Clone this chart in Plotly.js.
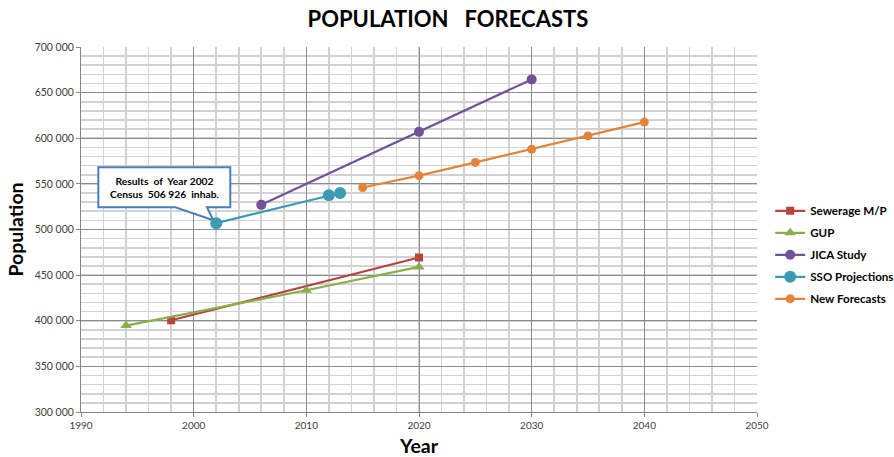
<!DOCTYPE html>
<html>
<head>
<meta charset="utf-8">
<script src="https://cdn.plot.ly/plotly-3.0.1.min.js"></script>
<style>html,body{margin:0;padding:0;background:#fff;}#chart{width:894px;height:457px;}</style>
</head>
<body>
<div id="chart"></div>
<script>
// ---- data ----
const sewerageYears = [1998, 2020];
const sewerageValues = [400500, 469300];
const gupYears = [1994, 2010, 2020];
const gupValues = [394700, 433400, 459000];
const jicaYears = [2006, 2020, 2030];
const jicaValues = [527000, 607000, 664500];
const ssoYears = [2002, 2012, 2013];
const ssoValues = [506926, 537600, 540000];
const newYears = [2015, 2020, 2025, 2030, 2035, 2040];
const newValues = [546000, 559000, 573500, 588000, 602600, 617700];

const seriesNames = ["Sewerage M/P", "GUP", "JICA Study", "SSO Projections", "New Forecasts"];
const yTickVals = [300000, 350000, 400000, 450000, 500000, 550000, 600000, 650000, 700000];
const yTickText = ["300 000", "350 000", "400 000", "450 000", "500 000", "550 000", "600 000", "650 000", "700 000"];
const xTickVals = [1990, 2000, 2010, 2020, 2030, 2040, 2050];
const calloutText = "Results\u00a0 of\u00a0 Year 2002<br>Census\u00a0 506 926\u00a0 inhab.";

const FONT = "Lato, 'Open Sans', sans-serif";

function tr(name, x, y, color, symbol, size) {
  return {
    type: "scatter", mode: "lines+markers", name: name, x: x, y: y,
    legendgroup: name,
    line: {color: color, width: 2.2},
    marker: {color: color, symbol: symbol, size: size},
    hoverinfo: "skip"
  };
}

const traces = [
  tr(seriesNames[0], sewerageYears, sewerageValues, "#b7423f", "square", 8),
  tr(seriesNames[1], gupYears, gupValues, "#8bad4c", "triangle-up", 10),
  tr(seriesNames[2], jicaYears, jicaValues, "#6f5298", "circle", 10),
  tr(seriesNames[3], ssoYears, ssoValues, "#3b9bb3", "circle", 12),
  tr(seriesNames[4], newYears, newValues, "#e2843a", "circle", 9)
];

// callout box location (decoration)
const bx0 = 1991.54, bx1 = 2003.25, by0 = 524450, by1 = 568300;
const wl = 1998.37, wr = 2001.18, tipX = 2001.74, tipY = 510200;
const calloutPath = `M ${bx0},${by1} L ${bx1},${by1} L ${bx1},${by0} L ${wr},${by0} L ${tipX},${tipY} L ${wl},${by0} L ${bx0},${by0} Z`;

const layout = {
  width: 894, height: 457,
  margin: {l: 81, r: 137, t: 47, b: 45, pad: 0, autoexpand: false},
  paper_bgcolor: "#fff", plot_bgcolor: "#fff",
  font: {family: FONT, color: "#000"},
  title: {
    text: "POPULATION\u00a0\u00a0 FORECASTS",
    font: {family: FONT, size: 22, color: "#000", weight: 700},
    x: 0.501, xanchor: "center", y: 0.958, yanchor: "middle"
  },
  xaxis: {
    range: [1990, 2050], tickvals: xTickVals,
    ticks: "outside", ticklen: 4, tickcolor: "#868686",
    showline: true, linecolor: "#868686", linewidth: 1,
    showgrid: true, gridcolor: "#8c8c8c", gridwidth: 1,
    minor: {dtick: 2, tick0: 1990, showgrid: true, gridcolor: "#d2d2d2", gridwidth: 1.6, ticks: ""},
    tickfont: {family: FONT, size: 10, color: "#404040"},
    zeroline: false,
    title: {text: "Year", font: {family: FONT, size: 19.5, color: "#000", weight: 700}, standoff: 12}
  },
  yaxis: {
    range: [300000, 700000], tickvals: yTickVals, ticktext: yTickText,
    ticks: "outside", ticklen: 4, tickcolor: "#868686",
    showline: true, linecolor: "#868686", linewidth: 1,
    showgrid: true, gridcolor: "#8c8c8c", gridwidth: 1,
    minor: {dtick: 10000, tick0: 300000, showgrid: true, gridcolor: "#d2d2d2", gridwidth: 1.6, ticks: ""},
    tickfont: {family: FONT, size: 10.5, color: "#404040"},
    zeroline: false,
    title: {text: "Population", font: {family: FONT, size: 19.5, color: "#000", weight: 700}, standoff: 5}
  },
  showlegend: true,
  legend: {
    x: 1.0195, xanchor: "left", y: 0.591, yanchor: "top",
    font: {family: FONT, size: 11.6, color: "#000", weight: 700},
    bgcolor: "rgba(0,0,0,0)", traceorder: "grouped", tracegroupgap: 3,
    itemwidth: 30
  },
  shapes: [{
    type: "path", xref: "x", yref: "y", path: calloutPath,
    fillcolor: "#fff", line: {color: "#4a7ebb", width: 2}, layer: "between"
  }],
  annotations: [{
    xref: "x", yref: "y", x: (bx0 + bx1) / 2, y: (by0 + by1) / 2,
    text: calloutText, showarrow: false,
    font: {family: FONT, size: 10.3, color: "#000", weight: 700},
    align: "center"
  }]
};

Plotly.newPlot("chart", traces, layout, {displayModeBar: false, staticPlot: true});
</script>
</body>
</html>
